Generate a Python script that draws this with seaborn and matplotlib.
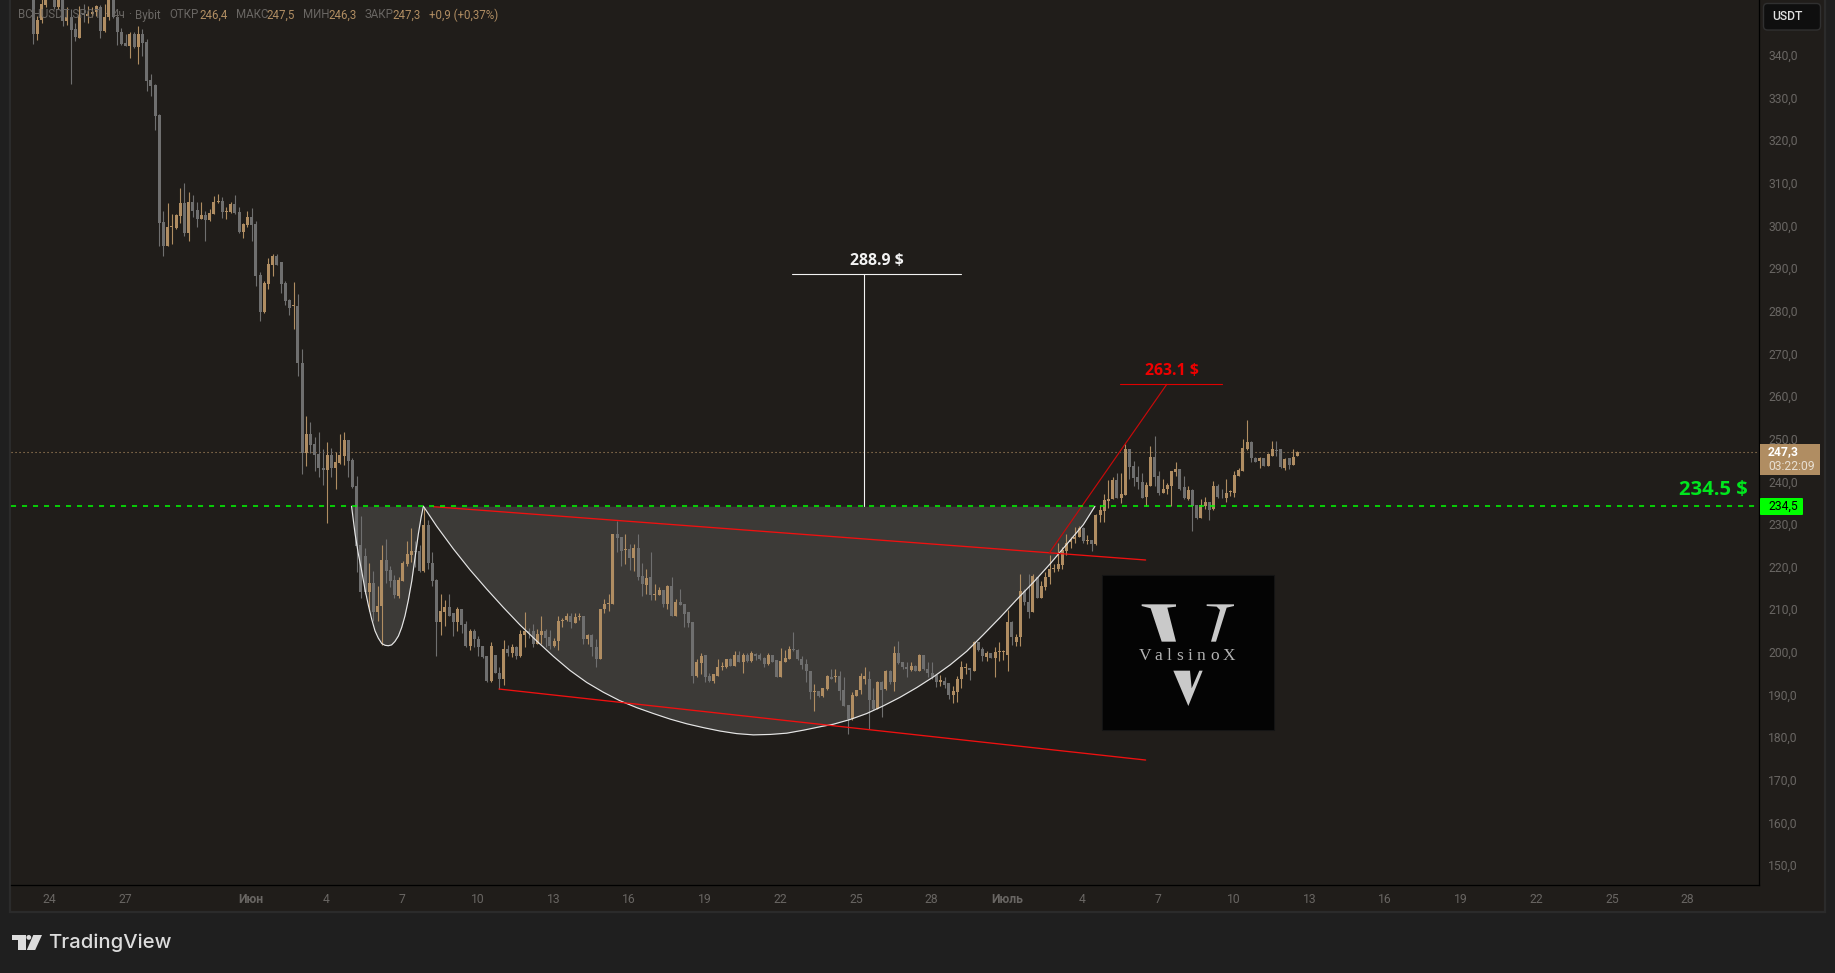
import numpy as np
import pandas as pd
import seaborn as sns
import matplotlib.pyplot as plt
from matplotlib.patches import Rectangle, Polygon, Circle, FancyBboxPatch
from matplotlib.transforms import Affine2D

# 4h candles, first one is about 8.64 days before June 1
open_p = [356,345.3,348.5,352.1,357,355,351.6,356,348.3,349.1,
          346.5,344.4,350.2,349.5,349.9,350.5,351.6,346,349.1,354.5,
          349.2,345.6,343.2,342.5,345.3,342.1,345.3,343.4,334.5,333.3,
          326.3,301.2,295.6,300,299.7,302.6,305.5,298.5,305.9,304,
          301.9,302.8,301.7,303,305.9,306.1,303.5,303.5,305.4,303.5,
          298.9,300.5,302.4,300.7,288.8,280,286.6,291.1,293.2,291.7,
          286.9,282.9,281.4,281.5,268.1,247.1,251.4,249,246.8,243.5,
          243,246.6,243.5,244.7,246.3,250.1,245.4,239.3,225.4,222.9,
          214.3,216.5,209.6,211,221.9,219.6,217.2,213.5,217,220.9,
          223.1,224,223.9,219.4,230.2,221.2,217.2,207.3,209.8,210.8,
          209.4,207.4,210.4,206.9,201.8,205.2,203.4,201.8,199.4,193.6,
          199.6,195.4,194,201,200.1,201.5,199.4,204.4,205.2,205.2,
          202.3,204.4,205.2,203.9,201.8,202.8,207.6,207.8,208.8,207.1,
          208.5,208.8,203.4,204.4,201.6,198.8,210.4,211.6,211.7,228.1,
          227.2,224.3,224.4,222.3,224.8,218.2,216,217.8,213.8,213.8,
          214.9,211.5,215.9,208.7,212.1,211.7,209.6,207.4,194.6,197.7,
          199.6,194.8,193.6,194.8,196.8,196.9,198.6,197.1,199.7,198.1,
          199.7,198.3,199.8,199.7,198.9,197.5,199.7,198.5,194.5,197.9,
          198.8,201,200.9,198.8,197.6,195.9,191,191.2,190,191.6,
          194.5,194.4,194.6,191.4,187.9,184.6,190,191.4,194,194,
          189.1,187,193.2,191.6,195.8,193.2,200.1,197.9,196.9,196.1,
          197.1,195.9,199.6,196.3,195.5,195,193.2,193.6,193.1,190.3,
          191,194,196.6,196.5,195.9,202.6,201,199.1,200.2,198.9,
          200.4,200.3,199.7,207.4,202.7,203.8,214.7,212,209.6,218,
          213.1,215.5,217.8,219.9,219.8,220.8,224.1,226.2,226.8,227.2,
          229.4,226.3,226.6,225.6,232.4,233.4,235.8,236.2,240.6,236.4,
          237.2,247.9,244,241.3,240.2,236.7,239.3,246.1,241.6,237.7,
          238.5,239.3,242.6,243.2,239.1,236.2,238.4,234.8,231.7,234.6,
          235.4,233.8,239.3,236.9,236.4,237.8,237.7,241.6,242.8,247.9,
          249.5,245.9,245,245.8,244,246.3,247.8,247.9,243.4,245.7,
          244.1,246.4]
high_p = [358,349.5,353.5,356,358,356,355,357,351.6,351,
          347.7,351.8,352.2,351.8,351.5,352,352.1,352.2,356,356,
          350.7,346.6,345.3,345.6,345.7,347.1,346.4,344,335.8,333.5,
          326.5,303.8,305.7,303,303,309.2,310.2,308.2,307.4,305.9,
          305.9,303.8,304.2,307.3,307.7,306.9,304.7,305.9,307.4,304.7,
          300.8,303.8,304.4,301.4,289.5,287.4,292.8,293.6,293.6,291.8,
          287.2,283,287,284.3,271.3,255.7,254.3,250.8,252,247.9,
          249.6,248.2,247.3,251.5,252,250.1,245.7,241.6,232.3,224.8,
          221.2,219.4,215.9,225.5,226.8,220.5,218.4,218,221.6,226.4,
          229.4,226.3,225.5,234.2,231.3,223.8,217.5,213.9,212.6,213.9,
          209.4,210.8,210.4,207.6,205.7,205.7,204.1,201.8,199.4,202.6,
          199.6,196.7,203.1,202,202.3,201.8,205.5,209.8,206,206.9,
          205.7,208.8,205.7,205.5,203.7,208.8,208.3,209.5,209.4,209.4,
          209.4,208.8,204.5,204.5,203.4,210.4,212.7,213.9,228.1,231.1,
          227.2,228,225.6,225.6,228,221.1,219.8,223.8,216.2,215.6,
          214.9,216,218,212.7,215.1,211.7,209.6,207.4,198.7,200.1,
          199.6,195.4,195.1,198.7,198.1,198.7,198.9,200.6,200.5,200.2,
          200,200.5,200.2,200,199.2,200,199.7,198.5,201.3,200.8,
          201.8,205.1,201.1,199.4,198.7,195.9,192.8,191.2,192,195,
          196.3,196.3,195.9,194.4,187.9,190.9,191.5,195.5,196.9,195.9,
          192,193.6,193.6,196.1,196.1,201.8,202.8,197.9,197.9,197.9,
          197.3,199.9,199.6,197.9,197.9,195.2,195,194.4,193.1,192.4,
          194.6,198.3,197.7,196.6,203,202.6,201.4,200.6,200.2,201.4,
          202.6,200.8,210.2,207.7,204.5,218.6,215.1,218.6,218.6,218,
          217,219,223,221,225.8,224.9,228,227.2,229.7,229.9,
          229.7,227.8,226.6,232.7,234.8,237.4,240.6,241.4,242.4,242.4,
          249.1,247.9,245.2,244,242.4,240.1,248.7,251,242.7,240.9,
          239.9,242.8,244.8,243.2,241.6,239.3,238.5,234.8,236.2,236.6,
          235.4,240.5,239.7,238.5,240.9,238.3,242.8,243.4,250.2,254.8,
          249.9,246.1,246,245.8,247.1,249.9,249.7,247.9,245.8,245.9,
          247.9,247.5]
low_p = [342.8,343.9,347.9,351.5,353.5,351,351,347.1,347.4,333.5,
         343.6,344.2,348,347.9,349.3,349.5,344.2,345.6,348.6,349,
         342.6,342.6,342.3,339.7,342,338.3,340,331.8,330.7,322.8,
         295.6,293.2,295.5,296.1,299.4,301,297.9,296.6,302.4,300,
         301.9,296.8,301.4,303,305.5,302,301.9,303.3,303,298.6,
         297.5,299.9,296.8,286.2,278,279.9,285.4,288.5,291,284.4,
         281.8,279.4,276,265.1,242,244,247.1,242.8,241.4,239.5,
         230.5,241.4,238.6,244.4,244.2,241.4,238.8,219,213,213.9,
         210,207.7,207.7,202,216.6,215.5,212.9,213.1,216.9,220.4,
         221.5,220.2,219.2,219.2,219.8,215.7,199.3,204.4,206.5,208.8,
         204,205.2,204.8,201.4,200.8,201.4,199.3,199,193.4,193.4,
         195.3,191.6,192.6,199.4,199.2,198.8,199.2,201.4,203.7,201.4,
         202.2,202.2,201.4,201,201.4,200.8,206.2,207.6,205.9,207.1,
         207.9,202.2,202.3,199.4,196.7,198.8,209.4,210,211.7,223.7,
         220.5,220.9,219.6,219.4,217.2,213.4,213.9,212.5,212.6,213.7,
         210.8,210.4,208.7,208.7,211.4,206.1,206.1,193,194.4,195.1,
         193.2,193.4,193,194.8,196,196.6,197.1,197.1,198,195.5,
         198.1,198.1,198.4,198.4,196.9,197.3,198,194.5,194.5,197.9,
         198.8,200.5,198.4,196.3,193.4,189.3,186.4,189.7,189.7,191.5,
         193.9,193.2,189,187.7,181.1,184.5,189.9,190.5,192.8,182.3,
         186.7,186.9,185,191.4,192.8,191.3,197.5,196.3,194.4,195.9,
         195.8,195.8,196.1,194.4,194,192.2,192.3,192,189.3,188.3,
         188.5,192,195.2,193.8,195.8,200.5,198.3,198.3,198.9,194.4,
         198.3,198.4,195.9,202,201.8,201.8,211.4,208.2,209.6,213.1,
         213.1,214.9,216.3,219.2,219.4,219.9,223.1,224.8,226,227.2,
         226,225.6,224,225.5,230.7,230.7,234,236.2,236.4,235.2,
         237.2,240.9,239.3,238.5,236.4,234.6,239.3,239.3,237.2,237.7,
         237.4,234.6,241.6,238.3,236.2,235.9,228.8,231.5,231.7,233.8,
         231.3,233.6,236.4,236.4,235.4,236.9,236.7,241.6,242.8,247.7,
         244.8,244.8,243.4,244,244,246.3,246.3,243.4,243,243.2,
         244.1,246.3]
close_p = [345.3,348.5,352.2,354,354,351.6,354.5,348.3,349.1,346.2,
           344.6,349.7,349.7,349.9,350.3,351.7,346,349.2,354,349.1,
           345.6,343,342.5,345.3,342.1,345.3,343.2,334.2,333.1,326,
           301,295.6,300,300.1,302.8,305.5,298.5,305.9,303.8,301.9,
           302.8,301.7,303.3,305.9,306.1,303.4,303.7,305.4,303.3,298.9,
           300.7,302.4,300.5,288.5,280,286.8,291.3,293.2,291.1,286.6,
           282.7,281.1,281.5,268,247,251.4,248.9,246.6,243.4,243,
           246.6,243.5,244.9,246.6,250.1,245.2,239.1,225.2,214.3,214.3,
           216.5,209.6,211.2,221.9,219.4,217,213.8,217.2,221.3,223.3,
           224,223.7,219.4,230.2,221.2,217,207.3,210,210.8,208.8,
           207.4,210.4,206.7,201.8,205.2,203.4,201.4,199.2,193.6,201.8,
           195.3,194,201,200.1,201.4,199.4,204.5,205.2,204.9,202.3,
           204.5,205.2,203.6,201.8,203,207.6,207.9,208.7,207.3,208.6,
           208.6,203.4,204.4,201.4,198.8,210.4,211.7,211.9,228.1,227,
           224,224.5,222.3,224.8,218,216.3,217.6,213.8,213.9,214.9,
           211.5,215.9,208.7,212.1,211.4,209.2,207.2,194.8,198,199.5,
           194.5,193.6,195.1,196.9,197.1,198.6,197.1,199.7,198.1,199.7,
           198.3,200,199.4,198.7,197.5,199.7,198.1,194.5,198.3,198.9,
           201,200.8,198.6,197.3,195.8,190.9,191.1,190,191.8,194.6,
           194.1,194.5,191.3,187.7,184.6,190.3,191.4,194.8,194.8,189.1,
           187,193.2,191.4,195.8,193.2,200.1,197.7,196.7,196.3,197.1,
           195.9,199.6,196.3,195.4,194.4,193.2,193.8,192.7,190.3,191.3,
           194.1,196.7,196.8,196.2,202.6,200.9,199.5,200.2,198.9,200.4,
           200.5,200.5,207.4,203.8,203.8,214.7,212,209.6,218.2,213.1,
           215.7,218,219.8,220,221,224.2,226,226.5,227.3,229.4,
           226.4,226.5,225.6,232.5,233.7,235.9,236.2,240.6,236.4,237.4,
           247.9,243.8,241.1,240.2,236.4,239.5,246.1,241.4,237.7,238.5,
           239.5,242.8,243.2,238.5,236.4,238.3,234.6,231.7,234.8,235.4,
           233.6,239.3,236.7,236.8,237.7,238,241.9,243,248.1,249.5,
           245.7,244.9,245.8,244,246.7,247.9,247.5,243.6,245.6,244.1,
           246.1,247.3]

# days since June 1 / price for the hand drawn shapes
handle_t = [3.99,4.13,4.26,4.39,4.52,4.66,4.79,4.92,5.05,5.19,5.32,5.45,5.58,5.71,5.85,5.98,6.11,6.24,6.38,6.51,6.64,6.75,6.84]
handle_p = [234.5,228,223.3,219.4,215.1,211.2,208,205.3,203.6,202.3,201.9,201.8,202,202.8,204.1,206.1,208.8,212.4,217,222.5,228,231.9,234.5]
cup_t = [6.84,7.37,8.03,8.69,9.35,10.01,10.67,11.34,12.0,12.66,13.32,13.98,14.64,15.3,15.97,16.63,17.29,17.95,18.61,19.27,19.93,20.6,21.26,21.92,22.58,23.11,23.77,24.43,25.09,25.75,26.42,27.08,27.74,28.4,29.06,29.72,30.38,31.05,31.71,32.37,33.03,33.49]
cup_p = [234.5,229.8,224.5,219.6,215.1,210.8,206.7,202.9,199.3,196,193.2,190.9,188.9,187.3,185.9,184.6,183.5,182.6,181.8,181.2,180.9,181,181.3,182,182.8,183.4,184.5,185.9,187.7,189.7,192,194.5,197.3,200.5,204.4,208.4,212.6,216.7,221,225.6,230.2,234.5]
upper_t, upper_p = [7.24, 35.5], [234.4, 221.9]
lower_t, lower_p = [9.84, 35.5], [191.65, 175.0]
rise_t, rise_p = [31.67, 36.34], [223.5, 263.1]
target_red_t, target_red_p = [34.49, 38.52], [263.1, 263.1]
target_white_t, target_white_p = [21.48, 28.19], [288.9, 288.9]
stem_t, stem_p = [24.34, 24.34], [234.5, 288.9]

level = 234.5
last_price = 247.3
first_candle = -8.64

price_ticks = list(range(150, 350, 10))
price_labels = [f'{v},0' for v in price_ticks]
day_ticks = [-8, -5, 0, 3, 6, 9, 12, 15, 18, 21, 24, 27, 30, 33, 36, 39, 42, 45, 48, 51, 54, 57]
day_labels = ['24', '27', 'Июн', '4', '7', '10', '13', '16', '19', '22', '25', '28', 'Июль', '4', '7', '10', '13', '16', '19', '22', '25', '28']

W, H = 1835, 973
OUTER = '#1f1f1f'
PANEL = '#201d1a'
TAN = '#b08d62'
GRAY = '#6f6f6f'
AXTEXT = '#696663'

sns.set_theme(style='dark', rc={'axes.facecolor': PANEL, 'figure.facecolor': OUTER})
plt.rcParams['font.family'] = ['Roboto', 'DejaVu Sans']

fig = plt.figure(figsize=(W / 100, H / 100), dpi=100)
ax = fig.add_axes([11 / W, 1 - 885 / H, (1759 - 11) / W, 885 / H])
px = Affine2D().scale(1 / W, -1 / H).translate(0, 1) + fig.transFigure

fig.add_artist(Rectangle((10, -3), 1815, 915, transform=px, fc=PANEL, ec='#2b2b2b', lw=1.6, zorder=-1))

candles = pd.DataFrame({'open': open_p, 'high': high_p, 'low': low_p, 'close': close_p})
candles['t'] = first_candle + candles.index / 6
candles['bottom'] = candles[['open', 'close']].min(axis=1)
candles['body'] = (candles['close'] - candles['open']).abs().clip(lower=0.2)
up = candles[candles['close'] >= candles['open']]
down = candles[candles['close'] < candles['open']]

# pattern fill goes under the candles
ax.fill_between(handle_t, handle_p, level, color='#3c3a37', lw=0, zorder=1)
ax.fill_between(cup_t, cup_p, level, color='#3c3a37', lw=0, zorder=1)

ax.vlines(up['t'], up['low'], up['high'], color=TAN, lw=0.8, zorder=3)
ax.vlines(down['t'], down['low'], down['high'], color=GRAY, lw=0.8, zorder=3)
sns.barplot(data=up, x='t', y='body', bottom=up['bottom'].values, native_scale=True, color=TAN, saturation=1,
            width=0.72, errorbar=None, linewidth=0, zorder=3, ax=ax)
sns.barplot(data=down, x='t', y='body', bottom=down['bottom'].values, native_scale=True, color=GRAY, saturation=1,
            width=0.72, errorbar=None, linewidth=0, zorder=3, ax=ax)


def draw_line(t, p, color, lw, zorder=4):
    sns.lineplot(x=t, y=p, color=color, lw=lw, estimator=None, sort=False, zorder=zorder, ax=ax)


draw_line(handle_t, handle_p, '#e6e6e6', 0.85)
draw_line(cup_t, cup_p, '#e6e6e6', 0.85)
draw_line(upper_t, upper_p, '#f01010', 0.95)
draw_line(lower_t, lower_p, '#f01010', 0.95)
draw_line(rise_t, rise_p, '#c80a0a', 0.85)
draw_line(target_red_t, target_red_p, '#e00000', 0.8)
draw_line(target_white_t, target_white_p, '#f2f2f2', 0.8)
draw_line(stem_t, stem_p, '#f2f2f2', 0.8)

ax.axhline(level, color='#00ff00', lw=1.1, dashes=(3.3, 3.9), zorder=5)
ax.axhline(last_price, color=TAN, lw=0.8, dashes=(1, 2.6), zorder=2)

ax.set_xlim(-9.524, 59.84)
ax.set_ylim(145.7, 353.2)
ax.set_xlabel('')
ax.set_ylabel('')
ax.yaxis.tick_right()
ax.set_yticks(price_ticks)
ax.set_yticklabels(price_labels, color=AXTEXT, fontsize=8.7, ha='left', va='center')
ax.set_xticks(day_ticks)
ax.set_xticklabels(day_labels, color=AXTEXT, fontsize=8.7)
for lab in ax.get_xticklabels():
    if lab.get_text() in ('Июн', 'Июль'):
        lab.set_fontweight('bold')
ax.tick_params(axis='both', length=0)
ax.tick_params(axis='y', pad=6.5)
ax.tick_params(axis='x', pad=5.5)
ax.grid(False)
for side in ('top', 'left'):
    ax.spines[side].set_visible(False)
for side in ('right', 'bottom'):
    ax.spines[side].set_color('#000000')
    ax.spines[side].set_linewidth(0.9)


def ftext(x, y, s, **kw):
    kw.setdefault('va', 'center')
    kw.setdefault('zorder', 8)
    fig.text(x, y, s, transform=px, **kw)


# annotations
LABEL_FONT = ['Open Sans']
ftext(876.7, 261.5, '288.9 $', color='#f2f2f2', family=LABEL_FONT, weight='bold', fontsize=11.4, ha='center')
ftext(1171.5, 371.5, '263.1 $', color='#f00000', family=LABEL_FONT, weight='bold', fontsize=11.4, ha='center')
ftext(1713, 489.5, '234.5 $', color='#00e61e', family=LABEL_FONT, weight='bold', fontsize=14.6, ha='center')

# header line
header = [(18, 'BCHUSDT.SPOT', AXTEXT), (104, '·', AXTEXT), (113, '4ч', AXTEXT), (128, '·', AXTEXT), (135, 'Bybit', AXTEXT),
          (169, 'ОТКР', AXTEXT), (199, '246,4', TAN),
          (236, 'МАКС', AXTEXT), (266.5, '247,5', TAN), (303, 'МИН', AXTEXT), (328, '246,3', TAN),
          (364.6, 'ЗАКР', AXTEXT), (392, '247,3', TAN), (429, '+0,9 (+0,37%)', TAN)]
for x, s, c in header:
    ftext(x, 15, s, color=c, fontsize=8.3)

# price scale labels
fig.add_artist(Rectangle((1760, 444), 60, 30.7, transform=px, fc=TAN, ec='none', zorder=6))
ftext(1768, 452, '247,3', color='#ffffff', fontsize=8.7, weight='bold')
ftext(1768, 466, '03:22:09', color='#e8dfd2', fontsize=8.7)
fig.add_artist(FancyBboxPatch((1760, 498), 43, 17, boxstyle='round,pad=0,rounding_size=1', transform=px,
                              fc='#00ff00', ec='none', zorder=6))
ftext(1768, 506.5, '234,5', color='#000000', fontsize=8.7)
fig.add_artist(FancyBboxPatch((1763.5, 3.5), 57, 26.5, boxstyle='round,pad=0,rounding_size=4', transform=px,
                              fc='#0f0f0f', ec='#303030', lw=1, zorder=6))
ftext(1772, 17, 'USDT', color='#e0e0e0', fontsize=8.7, weight='medium')

# watermark box
fig.add_artist(Rectangle((1101.7, 575), 172, 155, transform=px, fc='#040404', ec='#141414', lw=0.8, zorder=6))
logo_left = [(185, 133), (288, 133), (288, 140), (262, 143), (288, 245), (245, 245), (212, 145), (185, 138)]
logo_right = [(380, 133), (462, 133), (462, 138), (440, 143), (408, 245), (393, 245), (420, 150), (410, 140), (380, 138)]
logo_low = [(280, 332), (330, 332), (335, 385), (358, 332), (368, 332), (325, 438)]
for shape in (logo_left, logo_right, logo_low):
    pts = [(1080 + a / 3, 560 + b / 3) for a, b in shape]
    fig.add_artist(Polygon(pts, closed=True, transform=px, fc='#c9c9c9', ec='none', zorder=7))
for x, ch in zip([1145, 1158.3, 1169, 1179.3, 1190, 1201, 1215, 1229], 'ValsinoX'):
    ftext(x, 655.5, ch, color='#b4b4b4', family=['Liberation Serif'], fontsize=12.5, ha='center')

# TradingView mark
tv = [[(12, 935), (25.5, 935), (25.5, 950), (17.6, 950), (17.6, 940.2), (12, 940.2)],
      [(33.3, 935), (42, 935), (35.2, 950), (26.8, 950)]]
for shape in tv:
    fig.add_artist(Polygon(shape, closed=True, transform=px, fc='#dcdcdc', ec='none', zorder=7))
fig.add_artist(Circle((28.8, 937.4), 2.4, transform=px, fc='#dcdcdc', ec='none', zorder=7))
ftext(48.5, 943, 'TradingView', color='#dcdcdc', family=['Inter'], weight='medium', fontsize=14.6)

fig.savefig('out.png', dpi=100, facecolor=fig.get_facecolor())
